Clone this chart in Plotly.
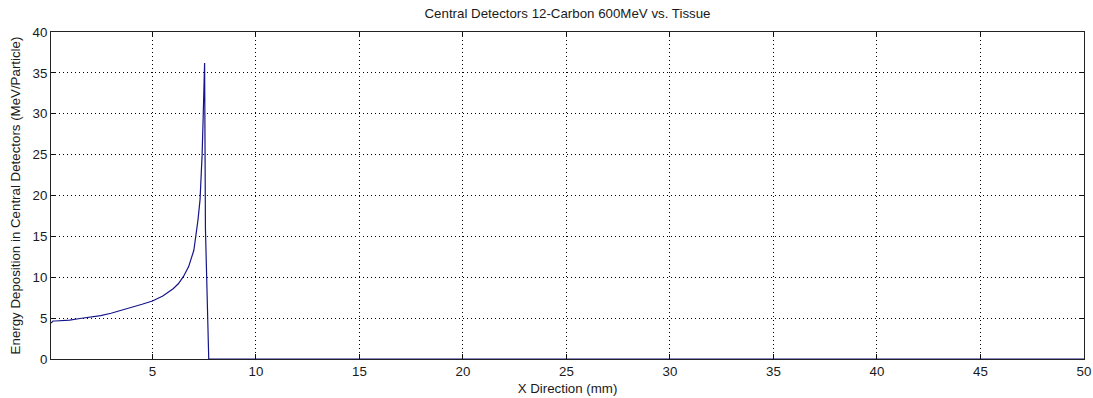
import plotly.graph_objects as go

x_mm = [0.1, 0.2, 0.3, 0.5, 1.0, 1.5, 2.0, 2.5, 3.0, 3.5, 4.0, 4.5, 5.0, 5.5, 6.0,
        6.25, 6.5, 6.75, 7.0, 7.1, 7.2, 7.3, 7.35, 7.4, 7.45, 7.5, 7.52,
        7.56, 7.62, 7.67, 7.72, 7.8, 50.0]
energy = [4.4, 4.65, 4.65, 4.68, 4.75, 4.95, 5.1, 5.3, 5.6, 5.95, 6.3, 6.7, 7.1, 7.7, 8.6,
          9.2, 10.1, 11.3, 13.3, 15.0, 17.0, 19.5, 22.0, 25.0, 29.5, 33.5, 36.2,
          16.0, 10.3, 3.0, 0.0, 0.0, 0.0]

title = "Central Detectors 12-Carbon 600MeV vs. Tissue"
x_title = "X Direction (mm)"
y_title = "Energy Deposition in Central Detectors (MeV/Particle)"

font = dict(family="Liberation Sans, Arial, sans-serif", size=13.3, color="#1a1a1a")

fig = go.Figure()
fig.add_trace(go.Scatter(x=x_mm, y=energy, mode="lines",
                         line=dict(color="#15158a", width=1.2), showlegend=False))

axis_common = dict(
    showline=True, linecolor="#222222", linewidth=1, mirror="allticks",
    ticks="inside", ticklen=5, tickcolor="#111111", tickwidth=1,
    showgrid=True, gridcolor="#000000", gridwidth=1, griddash="1px,3px",
    zeroline=False, tickfont=font, automargin=False,
)

fig.update_xaxes(range=[0.1, 50], tick0=0, dtick=5, title=dict(text=x_title, font=font, standoff=5),
                 **axis_common)
fig.update_yaxes(range=[0, 40], tick0=0, dtick=5, title=dict(text=y_title, font=font, standoff=8),
                 **axis_common)

fig.update_layout(
    width=1093, height=398,
    margin=dict(l=51, r=9, t=32, b=39),
    paper_bgcolor="white", plot_bgcolor="white",
    font=font,
    title=dict(text=title, x=(51 + 1084) / 2 / 1093, xanchor="center", y=1 - 13 / 398, yanchor="middle",
               font=font),
)

fig.write_html("out.html")
